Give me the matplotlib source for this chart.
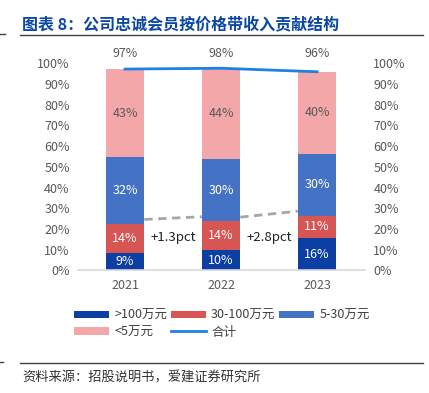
import matplotlib.pyplot as plt
import numpy as np

plt.rcParams['font.family'] = ['Noto Sans CJK SC', 'DejaVu Sans']

# Data: share of loyal member revenue by price band (%)
years = ['2021', '2022', '2023']
over_100 = [8.6, 9.8, 15.7]      # >100万元
mid_30_100 = [14.0, 13.9, 10.7]  # 30-100万元
mid_5_30 = [32.0, 30.1, 29.8]    # 5-30万元
under_5 = [42.6, 43.8, 39.7]     # <5万元
totals = [97.2, 97.6, 95.9]      # 合计
change_labels = ['+1.3pct', '+2.8pct']

series = [over_100, mid_30_100, mid_5_30, under_5]
names = ['>100万元', '30-100万元', '5-30万元', '<5万元']
colors = ['#0B3FA3', '#D75553', '#4472C4', '#F4A7A8']
text_colors = ['white', 'white', 'white', '#595959']

fig = plt.figure(figsize=(4.29, 3.93), dpi=100)
ax = fig.add_axes([0.182, 0.312, 0.669, 0.527])
x = np.arange(len(years))
w = 0.4

bottom = np.zeros(len(years))
bar_handles = []
for vals, name, c, tc in zip(series, names, colors, text_colors):
    vals = np.array(vals)
    b = ax.bar(x, vals, w, bottom=bottom, color=c, label=name, zorder=2)
    bar_handles.append(b)
    for xi, b0, v in zip(x, bottom, vals):
        ax.text(xi, b0 + v / 2, f'{v:.0f}%', ha='center', va='center',
                color=tc, fontsize=9)
    bottom += vals

line, = ax.plot(x, totals, color='#1F80E6', lw=2, label='合计', zorder=3)
for xi, t in zip(x, totals):
    ax.text(xi, 101.5, f'{t:.0f}%', ha='center', va='bottom',
            color='#595959', fontsize=9)

# dashed connectors above the >30万 share
cum30 = np.array(over_100) + np.array(mid_30_100)
for i in range(len(years) - 1):
    ax.plot([x[i] + w / 2, x[i + 1] - w / 2],
            [cum30[i] + 2.0, cum30[i + 1] + 2.2],
            color='#A6A6A6', lw=2, ls=(0, (3, 2)), zorder=1)
    ax.text((x[i] + x[i + 1]) / 2, 16, change_labels[i], ha='center',
            va='center', fontsize=9.5, color='#222222')

ax.set_xlim(-0.49, 2.5)
ax.set_ylim(0, 100)
ax.set_yticks(np.arange(0, 101, 10))
ax.set_yticklabels([f'{v}%' for v in range(0, 101, 10)])
ax.set_xticks(x)
ax.set_xticklabels(years)
ax.tick_params(length=0, labelsize=9, colors='#595959', pad=6)
for s in ['top', 'right', 'left']:
    ax.spines[s].set_visible(False)
ax.spines['bottom'].set_color('#D9D9D9')
ax.spines['bottom'].set_linewidth(1.2)

ax2 = ax.twinx()
ax2.set_ylim(0, 100)
ax2.set_yticks(np.arange(0, 101, 10))
ax2.set_yticklabels([f'{v}%' for v in range(0, 101, 10)])
ax2.tick_params(length=0, labelsize=9, colors='#595959', pad=6)
for s in ax2.spines.values():
    s.set_visible(False)

# legend filled column by column: gives rows [>100, 30-100, 5-30], [<5, 合计]
leg_h = [bar_handles[0], bar_handles[3], bar_handles[1], line, bar_handles[2]]
leg_l = [names[0], names[3], names[1], '合计', names[2]]
fig.legend(leg_h, leg_l, ncol=3,
           loc='upper left', bbox_to_anchor=(0.147, 0.243), frameon=False,
           fontsize=9, handlelength=2.8, handleheight=0.55,
           columnspacing=0.3, labelspacing=0.3, handletextpad=0.4,
           labelcolor='#404040')

fig.text(0.051, 0.938, '图表 8：公司忠诚会员按价格带收入贡献结构', color='#0A47A5',
         fontsize=11.5, fontweight='bold', va='center')
fig.add_artist(plt.Line2D([0.047, 0.985], [0.911, 0.911], color='#404040', lw=1))
fig.add_artist(plt.Line2D([0.0, 0.012], [0.913, 0.913], color='#404040', lw=1))
fig.add_artist(plt.Line2D([0.047, 0.985], [0.077, 0.077], color='#404040', lw=1))
fig.add_artist(plt.Line2D([0.0, 0.008], [0.079, 0.079], color='#404040', lw=1))
fig.text(0.051, 0.038, '资料来源：招股说明书，爱建证券研究所', color='#333333',
         fontsize=9.5, va='center')

fig.savefig('out.png', dpi=100)
